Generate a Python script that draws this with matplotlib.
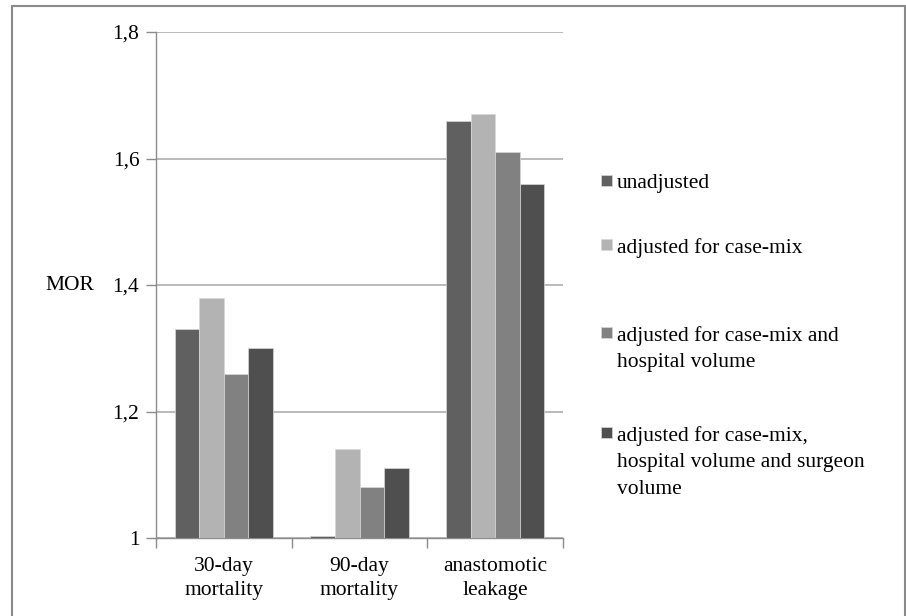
import numpy as np
import matplotlib
matplotlib.use('Agg')
import matplotlib.pyplot as plt
from matplotlib.patches import Rectangle

categories = ['30-day\nmortality', '90-day\nmortality', 'anastomotic\nleakage']
series = ['unadjusted',
          'adjusted for case-mix',
          'adjusted for case-mix and\nhospital volume',
          'adjusted for case-mix,\nhospital volume and surgeon\nvolume']
unadjusted = [1.33, 1.003, 1.66]
casemix = [1.38, 1.14, 1.67]
hospital = [1.26, 1.08, 1.61]
surgeon = [1.30, 1.11, 1.56]
yticks = [1, 1.2, 1.4, 1.6, 1.8]
ytick_labels = ['1', '1,2', '1,4', '1,6', '1,8']

colors = ['#606060', '#b3b3b3', '#818181', '#4f4f4f']
values = [unadjusted, casemix, hospital, surgeon]

plt.rcParams['font.family'] = 'serif'
plt.rcParams['font.serif'] = ['Liberation Serif', 'DejaVu Serif']
plt.rcParams['font.size'] = 15.5

W, H = 906, 616
fig = plt.figure(figsize=(W / 100, H / 100), dpi=100)
ax = fig.add_axes([156 / W, 1 - 538 / H, 407 / W, 506 / H])

x = np.arange(len(categories))
w = 0.181
for i, vals in enumerate(values):
    ax.bar(x + (i - 1.5) * w, np.array(vals) - 1, w, bottom=1,
           color=colors[i], edgecolor='#d8d8d8', linewidth=0.5, zorder=3)

ax.set_xlim(-0.5, 2.5)
ax.set_ylim(1, 1.8)
ax.set_yticks(yticks)
ax.set_yticklabels(ytick_labels)
ax.yaxis.grid(True, color='#b4b4b4', linewidth=1.3, zorder=0)

ax.set_xticks([-0.5, 0.5, 1.5, 2.5])
ax.set_xticklabels([])
ax.set_xticks(x, minor=True)
ax.set_xticklabels(categories, minor=True, linespacing=1.3)
ax.tick_params(axis='x', which='minor', length=0, pad=14)
ax.tick_params(axis='x', which='major', length=7, width=1, color='#8c8c8c')
ax.tick_params(axis='y', length=7, width=1, color='#8c8c8c', pad=5)

for s in ['top', 'right']:
    ax.spines[s].set_visible(False)
for s in ['left', 'bottom']:
    ax.spines[s].set_color('#8c8c8c')
    ax.spines[s].set_linewidth(1)

ax.set_ylabel('MOR', rotation=0, ha='center', va='center')
ax.yaxis.set_label_coords(-0.211, (538 - 286) / 506)

# legend drawn by hand so the swatch sits on the first line, as in Excel
leg_rows = [181, 245, 333, 433]
for lab, col, yrow in zip(series, colors, leg_rows):
    fig.patches.append(Rectangle((601 / W, 1 - (yrow + 5) / H), 11 / W, 11 / H,
                                 transform=fig.transFigure, facecolor=col,
                                 edgecolor='#d8d8d8', linewidth=0.5))
    fig.text(617 / W, 1 - (yrow - 7) / H, lab, ha='left', va='top',
             linespacing=1.53)

fig.patches.append(Rectangle((12 / W, -0.05), 893 / W, 1.05 - 6 / H,
                             transform=fig.transFigure, fill=False,
                             edgecolor='#8a8a8a', linewidth=1.5))

fig.savefig('out.png', dpi=100)
